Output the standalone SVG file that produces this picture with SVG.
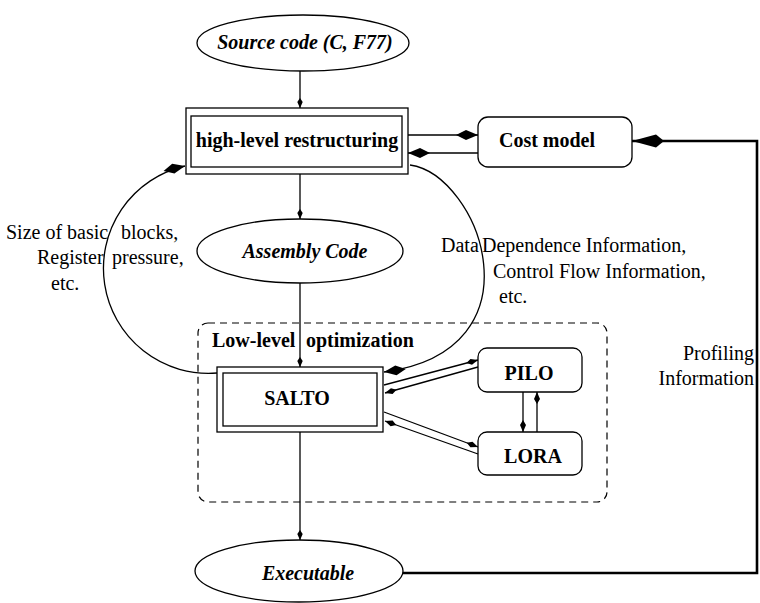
<svg xmlns="http://www.w3.org/2000/svg" width="760" height="603" viewBox="0 0 760 603">
  <style>
    .shape { fill: #fff; stroke: #000; stroke-width: 1.3; }
    .box { fill: none; stroke: #000; stroke-width: 1.3; }
    .dash { fill: none; stroke: #000; stroke-width: 1.2; stroke-dasharray: 7 5; }
    .edge { fill: none; stroke: #000; stroke-width: 1.3; }
    .thick { fill: none; stroke: #000; stroke-width: 2.6; }
    text { font-family: 'Liberation Serif', 'DejaVu Serif', 'Noto Serif', serif; font-size: 20px; fill: #000; }
    .b { font-weight: bold; }
    .bi { font-weight: bold; font-style: italic; }
    .c { text-anchor: middle; }
    .r { text-anchor: end; }
  </style>
  <defs>
    <marker id="sm" markerUnits="userSpaceOnUse" markerWidth="14" markerHeight="8" refX="12" refY="4" orient="auto" viewBox="0 0 14 8">
      <path d="M12,4 L6,1.3 L2,4 L6,6.7 Z" fill="#000"/>
    </marker>
    <marker id="md" markerUnits="userSpaceOnUse" markerWidth="16" markerHeight="10" refX="14" refY="5" orient="auto" viewBox="0 0 16 10">
      <path d="M14,5 L7,2 L2,5 L7,8 Z" fill="#000"/>
    </marker>
    <marker id="kt" markerUnits="userSpaceOnUse" markerWidth="26" markerHeight="12" refX="24" refY="6" orient="auto" viewBox="0 0 26 12">
      <path d="M24,6 L12,1 L2,6 L12,11 Z" fill="#000"/>
    </marker>
    <marker id="bg" markerUnits="userSpaceOnUse" markerWidth="36" markerHeight="16" refX="34" refY="8" orient="auto" viewBox="0 0 36 16">
      <path d="M34,8 L10,1.5 L2,8 L10,14.5 Z" fill="#000"/>
    </marker>
  </defs>

  <!-- connectors -->
  <g id="connectors">
    <path class="edge" d="M300,71 L300,108" marker-end="url(#sm)"/>
    <path class="edge" d="M408,135 L478,135" marker-end="url(#kt)"/>
    <path class="edge" d="M478,153 L408,153" marker-end="url(#kt)"/>
    <path class="edge" d="M300,174 L300,219" marker-end="url(#sm)"/>
    <path class="edge" d="M300,283 L300,367" marker-end="url(#sm)"/>
    <path class="edge" d="M217,373 A105,105 0 0 1 185,166" marker-end="url(#kt)"/>
    <path class="edge" d="M410,165 C480,175 545,350 384,372" marker-end="url(#kt)"/>
    <path class="edge" d="M384,385 L478,360" marker-end="url(#md)"/>
    <path class="edge" d="M478,367 L385,393" marker-end="url(#md)"/>
    <path class="edge" d="M384,412 L478,447" marker-end="url(#md)"/>
    <path class="edge" d="M478,454 L385,421" marker-end="url(#md)"/>
    <path class="edge" d="M523,392 L523,432" marker-end="url(#md)"/>
    <path class="edge" d="M537,432 L537,392" marker-end="url(#md)"/>
    <path class="edge" d="M300,432 L300,540" marker-end="url(#sm)"/>
    <path class="thick" d="M403,573 L757,573 L757,141 L632,141" marker-end="url(#bg)"/>
  </g>

  <!-- edge labels -->
  <g id="labels">
    <text><tspan x="6" y="239">Size of basic</tspan><tspan x="121" y="239">blocks,</tspan></text>
    <text><tspan x="37" y="264">Register</tspan><tspan x="112" y="264">pressure,</tspan></text>
    <text x="51" y="290">etc.</text>
    <text><tspan x="441" y="252">Data</tspan><tspan x="482" y="252">Dependence Information,</tspan></text>
    <text x="493" y="278">Control Flow Information,</text>
    <text x="499" y="303">etc.</text>
    <text class="r" x="754" y="360">Profiling</text>
    <text class="r" x="754" y="385">Information</text>
  </g>

  <g id="source">
    <ellipse class="shape" cx="303" cy="43" rx="106" ry="28"/>
    <text class="bi c" x="305" y="49">Source code (C, F77)</text>
  </g>

  <g id="restructuring">
    <rect class="shape" x="186" y="108" width="222" height="66"/>
    <rect class="box" x="191" y="116" width="211" height="51"/>
    <text class="b c" x="297" y="147">high-level restructuring</text>
  </g>

  <g id="cost-model">
    <rect class="shape" x="478" y="117" width="154" height="50" rx="10"/>
    <text class="b c" x="547" y="147">Cost model</text>
  </g>

  <g id="assembly">
    <ellipse class="shape" cx="300" cy="251" rx="103" ry="32"/>
    <text class="bi c" x="305" y="258">Assembly Code</text>
  </g>

  <g id="low-level">
    <rect class="dash" x="198" y="323" width="409" height="179" rx="10"/>
    <text class="b"><tspan x="212" y="347">Low-level</tspan><tspan x="306" y="347">optimization</tspan></text>
  </g>

  <g id="salto">
    <rect class="shape" x="217" y="367" width="166" height="65"/>
    <rect class="box" x="223" y="373" width="154" height="53"/>
    <text class="b c" x="297" y="405">SALTO</text>
  </g>

  <g id="pilo">
    <rect class="shape" x="478" y="348" width="104" height="44" rx="9"/>
    <text class="b c" x="529" y="380">PILO</text>
  </g>

  <g id="lora">
    <rect class="shape" x="478" y="432" width="104" height="43" rx="9"/>
    <text class="b c" x="533" y="463">LORA</text>
  </g>

  <g id="executable">
    <ellipse class="shape" cx="299" cy="571" rx="104" ry="31"/>
    <text class="bi c" x="308" y="580">Executable</text>
  </g>
</svg>
